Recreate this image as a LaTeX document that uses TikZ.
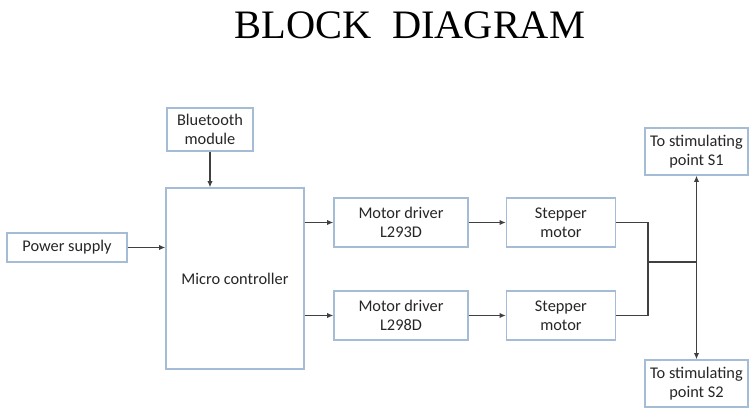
\documentclass[tikz,border=0pt]{standalone}
\usepackage{fontspec}
\setmainfont{Carlito}
\newfontfamily\titlefont{Liberation Serif}
\usetikzlibrary{arrows.meta,positioning}
\definecolor{boxline}{RGB}{165,188,214}
\definecolor{wirecol}{RGB}{64,64,64}

\begin{document}
\begin{tikzpicture}[
  blk/.style={draw=boxline,line width=0.8pt,fill=white,align=center,
    font=\fontsize{9.3}{11}\selectfont,text=black!85,inner sep=2pt},
  arr/.style={-{Latex[length=3.5pt,width=3pt]},draw=wirecol,line width=0.6pt},
  wire/.style={draw=wirecol,line width=0.6pt},
  node distance=0.74cm]
\useasboundingbox (0,0) rectangle (15,8.16);
\node[font=\titlefont\fontsize{23}{26}\selectfont,anchor=base](title) at (8.2,7.38){BLOCK\ \ DIAGRAM};

\node[blk,minimum width=2.76cm,minimum height=3.62cm](mcu) at (4.70,2.59){Micro controller};
\node[blk,minimum width=2.4cm,minimum height=0.58cm](psu) at (1.34,3.21){Power supply};
\node[blk,minimum width=1.72cm,minimum height=0.86cm](bt) at (4.20,5.57){Bluetooth\\module};
\node[blk,minimum width=2.68cm,minimum height=0.98cm](drva) at (8.02,3.71){Motor driver\\L293D};
\node[blk,minimum width=2.68cm,minimum height=0.98cm](drvb) at (8.02,1.85){Motor driver\\L298D};
\node[blk,minimum width=2.18cm,minimum height=0.98cm,right=of drva](stpa){Stepper\\motor};
\node[blk,minimum width=2.18cm,minimum height=0.98cm,right=of drvb](stpb){Stepper\\motor};
\node[blk,minimum width=2.06cm,minimum height=0.94cm](sa) at (13.93,5.13){To stimulating\\point S1};
\node[blk,minimum width=2.06cm,minimum height=0.94cm](sb) at (13.93,0.49){To stimulating\\point S2};
\coordinate (join) at (12.96,2.92);
\coordinate (hub) at (sa.south|-join);

\draw[arr](bt)--(bt|-mcu.north);
\draw[arr](psu)--(psu-|mcu.west);
\draw[arr](mcu.east|-drva)--(drva);
\draw[arr](mcu.east|-drvb)--(drvb);
\draw[arr](drva)--(stpa);
\draw[arr](drvb)--(stpb);
\draw[wire](stpa.east)-|(join)|-(stpb.east);
\draw[wire](join)--(hub);
\draw[arr](hub)--(sa);
\draw[arr](hub)--(sb);
\end{tikzpicture}
\end{document}
